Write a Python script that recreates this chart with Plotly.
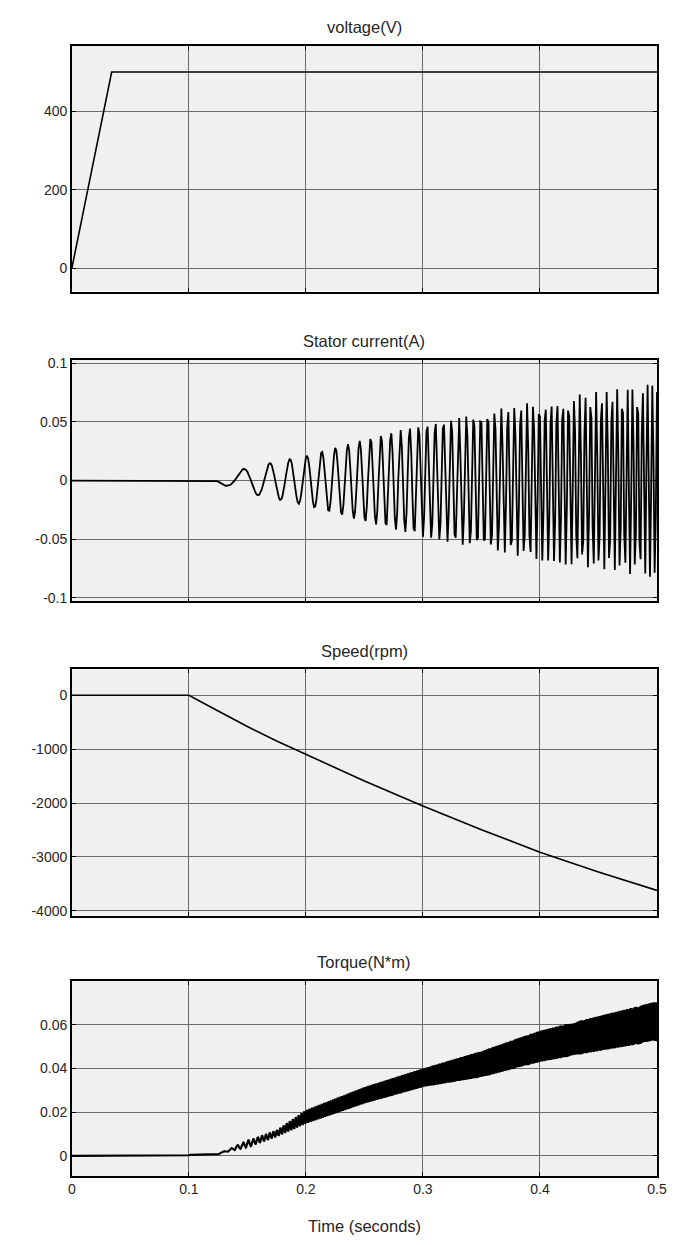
import numpy as np
import plotly.graph_objects as go

# ---------------- data ----------------
# supply voltage (V)
volt_t = [0.0, 0.034, 0.5]
volt_v = [0.0, 500.0, 500.0]

# rotor speed (rpm)
speed_t = [0.0, 0.1, 0.125, 0.15, 0.175, 0.2, 0.25, 0.3, 0.35, 0.4, 0.45, 0.5]
speed_rpm = [0, 0, -290, -580, -850, -1100, -1590, -2055, -2495, -2915, -3280, -3623]

# stator current amplitude envelope (A)
cur_env_t = [0.0, 0.123, 0.13, 0.147, 0.17, 0.2, 0.225, 0.25, 0.3, 0.35, 0.4, 0.45, 0.5]
cur_env_a = [0.0, 0.0, 0.004, 0.010, 0.015, 0.021, 0.028, 0.035, 0.048, 0.058, 0.068, 0.076, 0.083]
pole_pairs = 4
cur_peak_cycle = 0.84  # electrical cycle count of the first positive peak

# electromagnetic torque ripple band (N*m), ripple at the 6th electrical harmonic
torque_t = [0.0, 0.1, 0.1005, 0.123, 0.15, 0.175, 0.2, 0.25, 0.3, 0.35, 0.4, 0.45, 0.5]
torque_hi = [0, 0, 0.0005, 0.0005, 0.007, 0.0118, 0.021, 0.0315, 0.040, 0.048, 0.0573, 0.064, 0.0707]
torque_lo = [0, 0, 0.0005, 0.0005, 0.004, 0.0088, 0.0148, 0.024, 0.0315, 0.036, 0.043, 0.048, 0.0525]
torque_harmonic = 6

x_ticks = [0, 0.1, 0.2, 0.3, 0.4, 0.5]
x_ticktext = ["0", "0.1", "0.2", "0.3", "0.4", "0.5"]
titles = ["voltage(V)", "Stator current(A)", "Speed(rpm)", "Torque(N*m)"]
y_ticks = [
    ([0, 200, 400], ["0", "200", "400"]),
    ([-0.1, -0.05, 0, 0.05, 0.1], ["-0.1", "-0.05", "0", "0.05", "0.1"]),
    ([-4000, -3000, -2000, -1000, 0], ["-4000", "-3000", "-2000", "-1000", "0"]),
    ([0, 0.02, 0.04, 0.06], ["0", "0.02", "0.04", "0.06"]),
]
y_ranges = [[-60, 567], [-0.103, 0.103], [-4092, 480], [-0.0091, 0.08]]

# ---------------- waveforms driven by the speed trace ----------------
def electrical_cycles(t):
    n = np.interp(t, speed_t, np.abs(speed_rpm))
    f = pole_pairs * n / 60.0
    return np.concatenate([[0.0], np.cumsum(0.5 * (f[1:] + f[:-1]) * np.diff(t))])

# scope sample time of the logged current
t_cur = np.arange(0, 0.5 + 1e-9, 1e-3)
cyc = electrical_cycles(t_cur)
i_stator = np.interp(t_cur, cur_env_t, cur_env_a) * np.cos(2 * np.pi * (cyc - cur_peak_cycle))

t_tq = np.arange(0, 0.5 + 1e-9, 1e-4)
cyc_tq = electrical_cycles(t_tq)
hi = np.interp(t_tq, torque_t, torque_hi)
lo = np.interp(t_tq, torque_t, torque_lo)
torque = lo + (hi - lo) * (0.5 + 0.5 * np.cos(2 * np.pi * torque_harmonic * cyc_tq))

# ---------------- figure ----------------
W, H = 680, 1245
X0, X1 = 69.3, 666.7
panels = [(41, 288.7), (357.3, 600.7), (669.3, 917.3), (983.3, 1179.3)]

fig = go.Figure()
series = [
    (volt_t, volt_v, 1.6),
    (t_cur, i_stator, 1.8),
    (speed_t, speed_rpm, 1.6),
    (t_tq, torque, 2.2),
]
for k, (x, y, w) in enumerate(series):
    sfx = "" if k == 0 else str(k + 1)
    fig.add_trace(go.Scatter(
        x=x, y=y, mode="lines", xaxis="x" + sfx, yaxis="y" + sfx,
        line=dict(color="black", width=w),
        hoverinfo="skip", showlegend=False,
    ))

font_family = "Liberation Sans, Arial, sans-serif"
text_color = "#262626"
layout = dict(
    width=W, height=H, margin=dict(l=0, r=0, t=0, b=0),
    paper_bgcolor="white", plot_bgcolor="#f0f0f0",
    font=dict(family=font_family, size=14, color=text_color),
    annotations=[],
)
for k, (top, bot) in enumerate(panels):
    sfx = "" if k == 0 else str(k + 1)
    last = k == len(panels) - 1
    layout["xaxis" + sfx] = dict(
        domain=[X0 / W, X1 / W], anchor="y" + sfx, range=[0, 0.5],
        tickvals=x_ticks, ticktext=x_ticktext, showticklabels=last,
        ticks="inside", ticklen=4, tickcolor="black", tickwidth=1,
        showline=True, linecolor="black", linewidth=1.6, mirror="ticks",
        showgrid=True, gridcolor="#6a6a6a", gridwidth=1, zeroline=False,
        tickfont=dict(size=14, color=text_color),
    )
    tv, tt = y_ticks[k]
    layout["yaxis" + sfx] = dict(
        domain=[1 - bot / H, 1 - top / H], anchor="x" + sfx, range=y_ranges[k],
        tickvals=tv, ticktext=tt,
        ticks="inside", ticklen=4, tickcolor="black", tickwidth=1,
        showline=True, linecolor="black", linewidth=1.6, mirror="ticks",
        showgrid=True, gridcolor="#6a6a6a", gridwidth=1, zeroline=False,
        tickfont=dict(size=14, color=text_color),
    )
    layout["annotations"].append(dict(
        text=titles[k], xref="paper", yref="paper",
        x=(X0 + X1) / 2 / W, y=1 - (top - 19) / H,
        xanchor="center", yanchor="middle", showarrow=False,
        font=dict(size=16.5, color=text_color, family=font_family),
    ))
layout["annotations"].append(dict(
    text="Time (seconds)", xref="paper", yref="paper",
    x=(X0 + X1) / 2 / W, y=1 - 1230 / H,
    xanchor="center", yanchor="middle", showarrow=False,
    font=dict(size=16.5, color=text_color, family=font_family),
))

fig.update_layout(**layout)
fig.write_html("out.html")
